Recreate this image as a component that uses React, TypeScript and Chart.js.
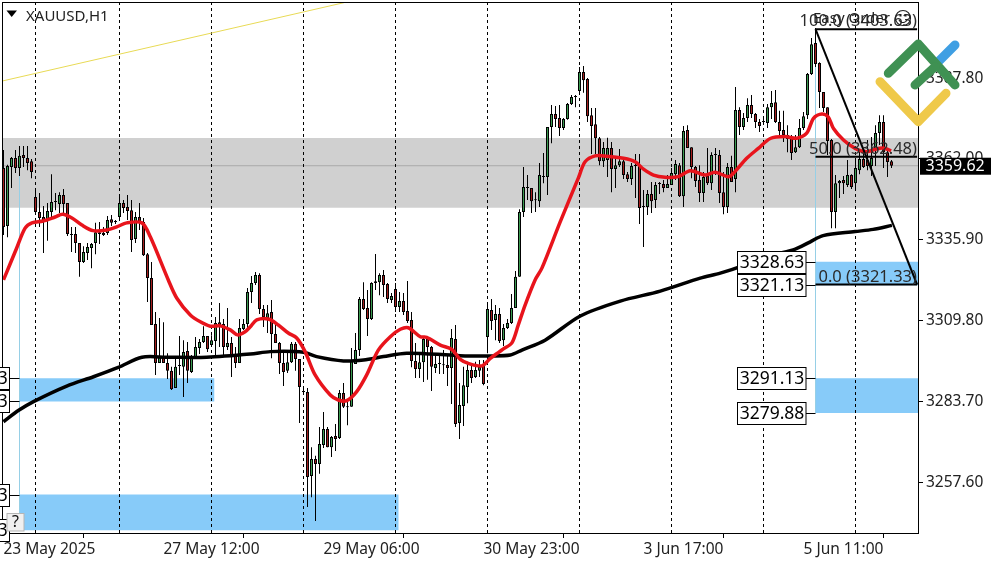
import { useEffect, useRef } from "react"
import { Chart, registerables } from "chart.js"

Chart.register(...registerables)

const opens = [
  3358.9, 3340.2, 3359.2, 3362.1, 3358.9, 3363.1, 3362.1, 3361.1, 3349.5, 3344.7,
  3343.1, 3342.1, 3344.7, 3347.9, 3347.3, 3350.2, 3347.6, 3337.6, 3337.6, 3334.7,
  3328.6, 3331.5, 3333.1, 3334.7, 3338.2, 3337.9, 3337.9, 3342.4, 3341.8, 3343.1,
  3347.6, 3346.3, 3345.3, 3336.0, 3343.1, 3341.5, 3331.1, 3323.4, 3308.6, 3296.0,
  3297.9, 3296.0, 3293.5, 3288.0, 3295.1, 3294.8, 3299.9, 3293.1, 3297.9, 3300.9,
  3302.8, 3304.7, 3301.8, 3303.1, 3309.2, 3308.6, 3301.2, 3302.5, 3298.6, 3296.0,
  3307.0, 3308.6, 3318.9, 3321.8, 3324.4, 3313.4, 3310.5, 3312.5, 3305.4, 3302.5,
  3296.0, 3293.5, 3296.3, 3302.2, 3297.3, 3287.0, 3286.7, 3259.6, 3265.1, 3263.5,
  3269.6, 3274.8, 3268.9, 3272.5, 3271.9, 3286.4, 3281.9, 3281.9, 3295.7, 3300.2,
  3316.7, 3313.8, 3310.2, 3321.8, 3322.1, 3324.4, 3321.5, 3316.3, 3319.9, 3314.1,
  3316.0, 3312.8, 3309.9, 3296.7, 3294.1, 3296.3, 3303.8, 3301.2, 3294.4, 3295.7,
  3295.4, 3295.4, 3294.4, 3303.8, 3276.7, 3282.2, 3288.3, 3293.8, 3291.5, 3293.5,
  3295.1, 3304.4, 3313.1, 3309.9, 3311.8, 3303.4, 3307.3, 3308.9, 3313.8, 3323.8,
  3344.7, 3352.4, 3352.4, 3348.6, 3348.2, 3356.0, 3356.0, 3372.1, 3376.3, 3375.0,
  3371.8, 3374.7, 3379.5, 3381.8, 3383.7, 3389.8, 3387.6, 3375.9, 3373.0, 3368.5,
  3361.1, 3361.5, 3365.3, 3358.6, 3359.8, 3361.1, 3356.9, 3355.3, 3359.5, 3359.5,
  3346.3, 3346.3, 3350.5, 3348.6, 3353.7, 3353.7, 3352.4, 3353.4, 3356.9, 3359.8,
  3349.8, 3371.1, 3365.6, 3359.2, 3355.0, 3350.8, 3356.3, 3354.0, 3363.1, 3363.1,
  3351.1, 3346.3, 3359.2, 3355.3, 3377.6, 3372.1, 3375.0, 3379.2, 3376.3, 3373.7,
  3373.7, 3373.4, 3378.5, 3380.1, 3373.7, 3371.1, 3369.5, 3368.5, 3364.0, 3365.6,
  3371.8, 3375.9, 3389.2, 3399.2, 3392.7, 3383.4, 3378.5, 3367.9, 3344.7, 3354.0,
  3355.0, 3353.4, 3356.6, 3354.0, 3358.2, 3361.8, 3361.5, 3359.5, 3364.7, 3370.2,
  3373.7, 3364.0, 3361.1,
]

const highs = [
  3364.7, 3359.9, 3362.4, 3364.7, 3366.0, 3366.0, 3366.0, 3361.8, 3352.4, 3350.8,
  3346.6, 3347.6, 3356.9, 3350.8, 3351.1, 3352.1, 3347.6, 3339.9, 3339.9, 3334.7,
  3333.7, 3334.7, 3334.7, 3341.2, 3341.5, 3339.9, 3343.4, 3343.7, 3342.1, 3350.2,
  3348.6, 3350.2, 3348.6, 3344.7, 3347.6, 3342.8, 3331.5, 3328.6, 3312.5, 3310.5,
  3309.2, 3299.2, 3294.8, 3297.6, 3304.7, 3303.4, 3302.8, 3298.6, 3304.4, 3303.8,
  3307.9, 3304.7, 3305.0, 3310.9, 3315.4, 3310.2, 3313.8, 3304.4, 3301.2, 3310.2,
  3310.2, 3320.2, 3324.1, 3325.4, 3325.0, 3314.7, 3314.7, 3316.3, 3308.3, 3302.8,
  3300.2, 3299.6, 3302.8, 3302.8, 3297.3, 3288.0, 3288.0, 3268.9, 3266.1, 3275.4,
  3280.2, 3275.4, 3272.5, 3276.4, 3287.3, 3289.6, 3284.1, 3300.9, 3305.7, 3317.3,
  3322.1, 3319.6, 3322.1, 3331.2, 3325.0, 3326.0, 3321.8, 3318.6, 3321.8, 3318.9,
  3318.6, 3322.5, 3312.5, 3302.5, 3299.2, 3304.7, 3304.4, 3301.5, 3299.2, 3299.2,
  3300.2, 3298.6, 3307.0, 3308.3, 3289.6, 3294.8, 3296.4, 3296.0, 3296.4, 3297.0,
  3297.0, 3315.7, 3316.7, 3314.7, 3313.8, 3308.6, 3310.2, 3318.3, 3325.7, 3345.6,
  3359.2, 3356.6, 3352.4, 3351.1, 3360.5, 3363.7, 3372.1, 3379.2, 3378.9, 3379.2,
  3375.0, 3379.8, 3382.4, 3382.4, 3391.4, 3391.8, 3387.9, 3378.2, 3378.2, 3368.9,
  3367.3, 3368.6, 3367.3, 3362.4, 3365.0, 3362.4, 3357.6, 3360.5, 3363.4, 3363.4,
  3351.8, 3351.8, 3354.4, 3354.4, 3354.4, 3355.0, 3356.6, 3358.9, 3361.5, 3360.5,
  3372.4, 3372.7, 3365.6, 3359.5, 3359.8, 3357.6, 3365.3, 3364.0, 3365.3, 3364.7,
  3357.6, 3360.5, 3362.8, 3385.0, 3378.5, 3376.6, 3381.4, 3382.4, 3376.6, 3374.7,
  3375.6, 3379.5, 3383.7, 3384.0, 3377.3, 3377.3, 3372.7, 3369.5, 3369.5, 3374.7,
  3376.9, 3389.5, 3400.8, 3404.0, 3393.0, 3383.4, 3378.5, 3368.2, 3356.6, 3355.0,
  3356.3, 3361.5, 3356.9, 3361.5, 3364.7, 3365.3, 3367.9, 3368.9, 3372.7, 3375.9,
  3375.9, 3364.7, 3361.5,
]

const lows = [
  3337.3, 3336.6, 3352.4, 3357.3, 3356.3, 3359.2, 3358.2, 3355.6, 3344.4, 3339.9,
  3331.5, 3335.4, 3343.1, 3345.3, 3344.4, 3343.7, 3337.0, 3331.8, 3331.5, 3323.8,
  3328.3, 3329.2, 3326.6, 3331.1, 3334.4, 3337.0, 3337.3, 3340.2, 3340.8, 3342.1,
  3344.4, 3342.1, 3331.8, 3334.7, 3338.9, 3330.5, 3315.7, 3308.3, 3292.2, 3296.0,
  3296.0, 3290.9, 3287.3, 3288.0, 3292.2, 3285.1, 3289.6, 3292.8, 3297.9, 3298.9,
  3302.5, 3299.6, 3301.2, 3298.3, 3301.2, 3298.6, 3300.2, 3291.5, 3294.4, 3296.0,
  3306.7, 3307.3, 3315.4, 3321.2, 3311.8, 3307.6, 3305.7, 3297.6, 3302.5, 3292.5,
  3288.6, 3292.8, 3296.0, 3293.5, 3276.7, 3286.4, 3249.6, 3252.8, 3245.1, 3260.3,
  3268.6, 3268.9, 3265.7, 3267.7, 3271.5, 3281.5, 3276.0, 3281.9, 3295.7, 3298.3,
  3313.1, 3304.7, 3309.9, 3319.6, 3317.9, 3317.3, 3315.4, 3315.4, 3312.5, 3312.5,
  3311.5, 3308.9, 3294.7, 3291.2, 3291.2, 3289.9, 3290.6, 3287.0, 3292.8, 3292.5,
  3292.5, 3288.6, 3282.8, 3275.4, 3271.5, 3275.7, 3283.1, 3289.6, 3291.2, 3291.5,
  3288.9, 3299.2, 3306.7, 3303.4, 3302.5, 3301.5, 3307.0, 3308.6, 3313.8, 3323.8,
  3343.1, 3348.6, 3344.4, 3344.7, 3346.3, 3354.0, 3350.2, 3366.9, 3372.1, 3369.2,
  3371.1, 3374.4, 3379.2, 3378.5, 3382.4, 3383.1, 3373.7, 3363.4, 3363.4, 3359.8,
  3359.2, 3356.0, 3351.1, 3352.4, 3359.2, 3355.3, 3354.4, 3353.4, 3349.2, 3340.8,
  3333.4, 3343.7, 3344.4, 3346.0, 3350.5, 3351.1, 3352.4, 3353.4, 3355.0, 3349.5,
  3346.3, 3365.3, 3355.6, 3352.8, 3347.9, 3347.9, 3353.4, 3351.8, 3356.6, 3347.6,
  3344.0, 3344.4, 3354.4, 3351.1, 3369.5, 3371.1, 3373.7, 3375.0, 3371.8, 3370.5,
  3373.4, 3371.8, 3374.7, 3373.4, 3369.5, 3367.3, 3364.0, 3361.5, 3363.7, 3365.3,
  3371.1, 3374.7, 3388.9, 3391.4, 3378.2, 3376.9, 3363.1, 3339.5, 3339.5, 3349.2,
  3350.5, 3352.8, 3352.1, 3352.4, 3356.9, 3358.9, 3358.2, 3356.3, 3359.5, 3366.3,
  3358.9, 3356.0, 3358.9,
]

const closes = [
  3339.9, 3359.5, 3362.1, 3358.9, 3362.8, 3362.1, 3360.5, 3357.6, 3344.7, 3342.8,
  3341.8, 3345.0, 3347.9, 3348.2, 3350.2, 3347.3, 3337.6, 3337.3, 3334.7, 3328.6,
  3331.8, 3333.4, 3334.4, 3338.2, 3337.6, 3337.3, 3342.1, 3341.2, 3341.5, 3347.6,
  3346.0, 3345.0, 3335.7, 3343.1, 3341.2, 3330.8, 3323.4, 3308.3, 3296.0, 3297.9,
  3296.0, 3293.5, 3287.6, 3294.8, 3295.2, 3299.6, 3293.5, 3298.3, 3301.2, 3302.8,
  3304.7, 3300.5, 3303.4, 3308.9, 3308.3, 3301.2, 3302.5, 3298.6, 3296.0, 3307.3,
  3308.6, 3318.9, 3321.8, 3324.4, 3313.4, 3310.9, 3312.1, 3305.4, 3302.5, 3296.0,
  3293.1, 3296.3, 3302.2, 3297.3, 3288.3, 3286.7, 3259.3, 3265.1, 3263.5, 3269.9,
  3274.8, 3268.9, 3272.2, 3271.5, 3286.4, 3281.9, 3281.8, 3297.0, 3300.2, 3316.7,
  3313.4, 3310.2, 3321.8, 3322.4, 3324.4, 3321.2, 3316.7, 3317.6, 3314.1, 3316.0,
  3312.5, 3309.6, 3296.7, 3294.1, 3296.3, 3303.8, 3301.2, 3294.8, 3295.7, 3295.8,
  3295.3, 3294.4, 3304.1, 3276.4, 3282.5, 3288.9, 3293.8, 3291.2, 3293.8, 3294.8,
  3289.3, 3313.4, 3309.6, 3311.8, 3303.1, 3307.3, 3308.9, 3313.8, 3323.8, 3344.7,
  3352.8, 3352.8, 3348.2, 3348.5, 3356.6, 3356.3, 3372.1, 3376.3, 3374.7, 3371.8,
  3374.7, 3379.5, 3381.8, 3381.9, 3389.8, 3387.2, 3375.6, 3372.4, 3368.5, 3361.1,
  3365.3, 3365.3, 3358.6, 3359.8, 3361.1, 3356.6, 3355.3, 3359.5, 3359.6, 3346.0,
  3346.4, 3350.5, 3348.2, 3353.4, 3353.8, 3352.4, 3353.7, 3357.3, 3360.2, 3349.8,
  3370.8, 3365.3, 3359.2, 3354.7, 3350.8, 3356.0, 3354.0, 3363.1, 3363.2, 3350.8,
  3346.3, 3359.2, 3354.4, 3377.6, 3372.1, 3375.0, 3379.2, 3376.3, 3373.7, 3372.4,
  3373.8, 3378.5, 3379.8, 3373.7, 3370.8, 3369.5, 3368.2, 3363.7, 3365.6, 3371.8,
  3375.6, 3389.2, 3398.8, 3392.4, 3383.4, 3378.2, 3367.6, 3344.7, 3354.0, 3354.7,
  3354.0, 3356.6, 3352.8, 3358.9, 3361.8, 3359.2, 3359.5, 3362.1, 3370.2, 3373.7,
  3364.0, 3360.8, 3359.6,
]

const fastMaBars = [
  0, 3.3, 5.4, 7.1, 9.9, 12.9, 14.8, 17.1, 19.6, 22.4, 25.8, 28.3, 30.8, 34.6, 36.7, 41.2,
  43.3, 46.7, 49.2, 51.7, 54.2, 56.7, 58.5, 60.4, 61.7, 63.3, 66.2, 68.7, 71.2, 73.3, 75.4, 77.9,
  81.7, 83.7, 85.8, 88.3, 90.8, 93.7, 96.7, 99.2, 101.2, 104.2, 105.8, 109.2, 112.1, 114.2, 116.2, 119.6,
  121.7, 123.7, 124.9, 127.1, 128.7, 130.4, 132.9, 134.6, 139.2, 143.7, 145.4, 147.9, 150.8, 155,
  157.9, 160, 162.5, 165.4, 168.7, 171.7, 175.4, 177.9, 181.2, 182.5, 185.8, 188.7, 191.7, 195.4,
  198.3, 200.8, 202.5, 204.6, 206.2, 207.5, 210, 212.9, 215.8, 218.7, 220.4, 221.9,
]
const fastMa = [
  3322.8, 3333.1, 3339.5, 3341.2, 3341.8, 3343.1, 3344.0, 3342.8, 3340.5, 3338.7, 3338.9, 3339.9, 3341.2, 3341.2, 3336.7, 3322.8,
  3317.0, 3311.5, 3309.3, 3307.9, 3308.0, 3306.7, 3305.1, 3306.1, 3307.7, 3309.9, 3310.2, 3308.3, 3305.7, 3304.1, 3299.7, 3292.2,
  3285.7, 3284.1, 3283.9, 3286.8, 3292.2, 3300.2, 3304.5, 3306.9, 3307.4, 3304.5, 3304.3, 3301.8, 3300.4, 3297.2, 3295.9, 3295.1,
  3297.5, 3299.4, 3300.5, 3302.5, 3308.3, 3314.7, 3322.8, 3326.6, 3341.6, 3355.6, 3360.9, 3362.8, 3362.7, 3362.0,
  3360.9, 3358.5, 3356.6, 3355.9, 3356.1, 3358.0, 3356.6, 3357.5, 3356.1, 3357.2, 3362.0, 3365.2, 3368.4, 3369.0,
  3368.5, 3370.1, 3374.9, 3376.3, 3375.3, 3371.6, 3367.9, 3365.2, 3364.1, 3365.2, 3365.2, 3364.4,
]

const slowMaBars = [
  0, 3.7, 7.5, 15.8, 22.5, 28.7, 34.6, 40.8, 50.8, 61.7, 66.7, 75, 78.3, 85, 90, 95, 100.8, 111.7,
  115.8, 121.7, 126.7, 129.6, 135.4, 144.2, 154.2, 164.2, 174.2, 179.2, 184.2, 189.2, 197.4, 201.7, 204.9, 212.9, 217.4, 222.1,
]
const slowMa = [
  3277.1, 3280.7, 3283.6, 3288.6, 3291.6, 3294.6, 3297.9, 3297.9, 3297.9, 3298.9, 3299.7, 3299.5, 3298.1, 3296.7, 3297.0, 3298.1, 3299.2, 3298.6,
  3298.3, 3298.3, 3298.6, 3300.2, 3303.4, 3311.2, 3316.0, 3319.2, 3323.4, 3325.0, 3327.1, 3329.9, 3332.5, 3335.1, 3337.1, 3338.4, 3339.1, 3340.4,
]

const sessionBars = [8, 29, 52, 75, 98, 121, 144, 167, 190, 213]
const timeTickBars = [0, 40, 80, 120, 160, 200]
const timeTickLabels = ["23 May 2025", "27 May 12:00", "29 May 06:00", "30 May 23:00", "3 Jun 17:00", "5 Jun 11:00"]
const priceTicks = [3387.8, 3362.0, 3335.9, 3309.8, 3283.7, 3257.6]

const lastPrice = 3359.62
const firstBar = -0.375
const lastBar = 228.625
const priceMin = 3241.24
const priceMax = 3412.39

const grayZone = [3346.1, 3368.55]
const trendBars = [firstBar, 85.2]
const trendPrices = [3386.9, 3412.2]

const zoneStart = [4, 4, 203, 203]
const zoneEnd = [52.75, 98.8, lastBar, lastBar]
const zoneHigh = [3291.13, 3253.63, 3328.63, 3291.13]
const zoneLow = [3283.63, 3242.13, 3321.13, 3279.88]
const zoneTop = [3364.0, 3253.63, 3403.63, 3291.13]

const fibBars = [203, 228.4]
const fibLevels = [3403.63, 3362.48, 3321.33]
const fibNames = ["100.0", "50.0", "0.0"]

const font = "'Noto Sans', sans-serif"

const lineSet = (xs: number[], ys: number[], color: string, width: number, order: number, extra = {}) => ({
  type: "line" as const,
  data: xs.map((x, i) => ({ x, y: ys[i] })),
  borderColor: color,
  borderWidth: width,
  pointRadius: 0,
  tension: 0,
  fill: false,
  order,
  ...extra,
})

const zoneSet = (start: number, end: number, low: number, high: number, color: string, order: number) =>
  lineSet([start, end], [high, high], "transparent", 0, order, {
    fill: { value: low },
    backgroundColor: color,
  })

const overlay = {
  id: "overlay",
  afterDraw(chart: Chart) {
    const { ctx, chartArea, scales } = chart
    const y = scales.y
    const x = scales.x
    ctx.save()

    // frame
    ctx.strokeStyle = "#000"
    ctx.lineWidth = 1
    ctx.strokeRect(chartArea.left + 0.5, chartArea.top + 0.5, chartArea.width, chartArea.height)

    // price boxes of the zones
    const priceBox = (right: number, lineEnd: number, value: number) => {
      const py = Math.round(y.getPixelForValue(value)) + 0.5
      ctx.strokeStyle = "#000"
      ctx.beginPath()
      ctx.moveTo(right, py)
      ctx.lineTo(lineEnd, py)
      ctx.stroke()
      ctx.fillStyle = "#fff"
      ctx.fillRect(right - 68.5, py - 11, 68.5, 22)
      ctx.strokeRect(right - 68.5, py - 11, 68.5, 22)
      ctx.fillStyle = "#000"
      ctx.font = `17.5px ${font}`
      ctx.textAlign = "center"
      ctx.textBaseline = "middle"
      ctx.fillText(value.toFixed(2), right - 34, py + 0.5)
    }
    const rightEdge = x.getPixelForValue(203) - 9.5
    const leftEnd = x.getPixelForValue(4)
    ;[zoneHigh[0], zoneLow[0], zoneHigh[1], zoneLow[1]].forEach((v) => priceBox(9.5, leftEnd, v))
    ;[zoneHigh[2], zoneLow[2], zoneHigh[3], zoneLow[3]].forEach((v) => priceBox(rightEdge, x.getPixelForValue(203), v))

    // fibo captions
    ctx.fillStyle = "#2b2b2b"
    ctx.font = `16.5px ${font}`
    ctx.textAlign = "right"
    ctx.textBaseline = "alphabetic"
    fibLevels.forEach((v, i) => {
      ctx.fillText(`${fibNames[i]} (${v.toFixed(2)})`, chartArea.right - 1, y.getPixelForValue(v) - 3)
    })

    // chart title
    ctx.fillStyle = "#000"
    ctx.beginPath()
    ctx.moveTo(6.5, 10.5)
    ctx.lineTo(17, 10.5)
    ctx.lineTo(11.7, 17)
    ctx.closePath()
    ctx.fill()
    ctx.fillStyle = "#222"
    ctx.font = `15px ${font}`
    ctx.textAlign = "left"
    ctx.fillText("XAUUSD,H1", 26, 21)

    // trade panel caption
    ctx.fillText("Easy Order", 813, 23)
    ctx.strokeStyle = "#222"
    ctx.lineWidth = 1.2
    ctx.beginPath()
    ctx.arc(903, 18, 7.5, 0, Math.PI * 2)
    ctx.stroke()
    ctx.beginPath()
    ctx.arc(903, 18, 4.5, 0.15 * Math.PI, 0.85 * Math.PI)
    ctx.stroke()
    ctx.fillStyle = "#222"
    ctx.fillRect(899.5, 14, 2, 2.5)
    ctx.fillRect(904.5, 14, 2, 2.5)

    // help button
    ctx.fillStyle = "#f0f0f0"
    ctx.fillRect(7, 513.5, 17, 17.5)
    ctx.strokeStyle = "#b5b5b5"
    ctx.lineWidth = 1
    ctx.strokeRect(7, 513.5, 17, 17.5)
    ctx.fillStyle = "#111"
    ctx.font = `16px ${font}`
    ctx.textAlign = "center"
    ctx.textBaseline = "middle"
    ctx.fillText("?", 15.5, 522.5)

    // last price tag
    const tagY = y.getPixelForValue(lastPrice)
    ctx.fillStyle = "#000"
    ctx.fillRect(920, tagY - 8, 71, 17)
    ctx.fillStyle = "#fff"
    ctx.font = `16px ${font}`
    ctx.textAlign = "left"
    ctx.fillText(lastPrice.toFixed(2), 925.5, tagY + 0.5)

    // logo
    const stroke = (pts: number[][], color: string) => {
      ctx.strokeStyle = color
      ctx.lineWidth = 9
      ctx.lineCap = "round"
      ctx.lineJoin = "round"
      ctx.beginPath()
      pts.forEach(([px, py], i) => (i ? ctx.lineTo(px, py) : ctx.moveTo(px, py)))
      ctx.stroke()
    }
    stroke([[938, 62], [955, 45]], "#3f9fe3")
    stroke([[880, 81.7], [918.3, 121.7], [946, 93.3]], "#efc94a")
    stroke([[888.3, 73.3], [918.3, 44], [955, 85]], "#3f9153")
    stroke([[915, 85], [935, 66.7]], "#3f9153")

    ctx.restore()
  },
}

export default function App() {
  const canvasRef = useRef<HTMLCanvasElement>(null)

  useEffect(() => {
    if (!canvasRef.current) return

    const bars = opens.map((_, i) => i)
    const chart = new Chart(canvasRef.current, {
      type: "bar",
      data: {
        datasets: [
          zoneSet(firstBar, lastBar, grayZone[0], grayZone[1], "#d0d0d0", 20),
          ...zoneStart.map((s, i) => zoneSet(s, zoneEnd[i], zoneLow[i], zoneHigh[i], "#87cbf9", 19)),
          lineSet([firstBar, lastBar], [lastPrice, lastPrice], "#aaaaaa", 1, 18),
          ...sessionBars.map((b) =>
            lineSet([b, b], [priceMin, priceMax], "#000", 1, 17, { borderDash: [3, 3] })
          ),
          ...[0, 2].map((i) => lineSet([zoneStart[i], zoneStart[i]], [zoneLow[i + 1], zoneTop[i]], "#96cfe6", 1, 16)),
          lineSet(trendBars, trendPrices, "#e8da55", 1, 15),
          {
            type: "bar" as const,
            data: bars.map((i) => ({ x: i, y: [lows[i], highs[i]] })),
            backgroundColor: "#000",
            barThickness: 1,
            grouped: false,
            inflateAmount: 0,
            order: 14,
          },
          {
            type: "bar" as const,
            data: bars.map((i) => ({ x: i, y: [opens[i], closes[i]] })),
            backgroundColor: bars.map((i) => (closes[i] >= opens[i] ? "#3a9a50" : "#a51e1e")),
            borderColor: "#000",
            borderWidth: 1,
            borderSkipped: false,
            barThickness: 3,
            minBarLength: 1,
            grouped: false,
            inflateAmount: 0,
            order: 13,
          },
          lineSet(slowMaBars, slowMa, "#000", 3.5, 12, { tension: 0.3 }),
          lineSet(fastMaBars, fastMa, "#e8141c", 3.5, 11, { tension: 0.3 }),
          ...fibLevels.map((v) => lineSet(fibBars, [v, v], "#000", 2, 10)),
          lineSet(fibBars, [fibLevels[0], fibLevels[2]], "#000", 2, 10),
        ] as any,
      },
      options: {
        responsive: false,
        animation: false,
        layout: { padding: { left: 2, top: 2 } },
        plugins: { legend: { display: false }, tooltip: { enabled: false } },
        scales: {
          x: {
            type: "linear",
            min: firstBar,
            max: lastBar,
            offset: false,
            afterBuildTicks: (axis: any) => {
              axis.ticks = timeTickBars.map((value) => ({ value }))
            },
            afterFit: (axis: any) => {
              axis.height = 29
              axis.paddingLeft = 0
              axis.paddingRight = 0
            },
            border: { color: "#000" },
            grid: { drawOnChartArea: false, tickLength: 5, tickColor: "#000" },
            ticks: {
              align: "start",
              autoSkip: false,
              maxRotation: 0,
              padding: 2,
              color: "#222",
              font: { family: font, size: 15.5 },
              callback: (_: any, i: number) => timeTickLabels[i],
            },
          },
          y: {
            position: "right",
            min: priceMin,
            max: priceMax,
            afterBuildTicks: (axis: any) => {
              axis.ticks = priceTicks.map((value) => ({ value }))
            },
            afterFit: (axis: any) => {
              axis.width = 82
              axis.paddingTop = 0
              axis.paddingBottom = 0
            },
            border: { color: "#000" },
            grid: { drawOnChartArea: false, tickLength: 5, tickColor: "#000" },
            ticks: {
              padding: 3,
              color: "#222",
              font: { family: font, size: 15.5 },
              callback: (value: any) => Number(value).toFixed(2),
            },
          },
        },
      } as any,
      plugins: [overlay as any],
    })

    return () => chart.destroy()
  }, [])

  return (
    <div style={{ position: "fixed", left: 0, top: 0, width: 1000, height: 562, background: "#fff" }}>
      <canvas ref={canvasRef} width={1000} height={562} />
    </div>
  )
}
